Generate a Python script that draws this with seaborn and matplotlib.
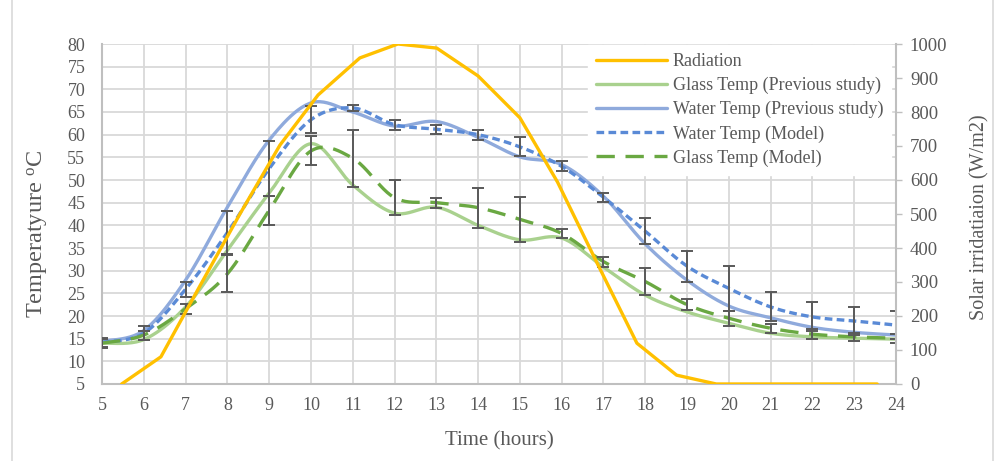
import numpy as np
import pandas as pd
import matplotlib
matplotlib.use("Agg")
import matplotlib.pyplot as plt
import seaborn as sns
from matplotlib.patches import Rectangle

# ---------------- data ----------------
hours = [5, 6, 7, 8, 9, 10, 11, 12, 13, 14, 15, 16, 17, 18, 19, 20, 21, 22, 23, 24]
glass_prev = [14.0, 14.8, 22.0, 34.5, 47.1, 58.0, 48.9, 42.7, 44.0, 40.0, 36.8, 37.2,
              30.8, 24.6, 20.9, 18.4, 16.2, 15.4, 15.1, 14.9]
water_prev = [14.4, 16.8, 27.9, 44.0, 58.8, 67.0, 65.0, 61.9, 62.9, 59.4, 55.1, 53.4,
              46.4, 35.9, 27.9, 22.2, 19.6, 17.5, 16.4, 15.8]
water_model = [14.2, 16.2, 25.9, 38.4, 52.5, 63.3, 65.9, 62.2, 61.2, 60.0, 57.3, 53.0,
               46.2, 38.7, 31.0, 26.1, 22.0, 19.8, 18.9, 18.0]
glass_model = [14.0, 15.8, 21.6, 29.3, 43.3, 56.4, 54.8, 46.1, 45.0, 43.9, 41.3, 38.2,
               32.0, 27.6, 22.5, 19.5, 17.3, 16.0, 15.4, 15.1]
water_err = [1.0, 1.6, 1.7, 4.8, 6.0, 3.0, 0.6, 1.1, 1.0, 1.1, 2.1, 1.1,
             1.0, 2.9, 3.4, 5.0, 3.2, 3.2, 3.0, 3.0]
glass_err = [1.0, 1.0, 1.1, 4.1, 3.2, 3.2, 6.3, 3.9, 1.1, 4.4, 5.0, 1.1,
             1.1, 2.9, 1.2, 1.6, 1.0, 1.1, 0.9, 1.0]
rad_time = [5.47, 6.41, 7.35, 8.30, 9.26, 10.17, 11.17, 12.08, 13.01, 14.00, 15.00,
            15.90, 16.85, 17.80, 18.75, 19.70, 20.65, 21.60, 22.55, 23.55]
radiation = [0, 80, 290, 500, 703, 850, 959, 1000, 988, 906, 783, 594, 355, 120, 26,
             0, 0, 0, 0, 0]

left_ticks = list(range(5, 81, 5))
right_ticks = list(range(0, 1001, 100))
labels = ["Radiation", "Glass Temp (Previous study)", "Water Temp (Previous study)",
          "Water Temp (Model)", "Glass Temp (Model)"]

# ---------------- style ----------------
sns.set_theme(style="white")
plt.rcParams["font.family"] = ["Liberation Serif", "DejaVu Serif"]
plt.rcParams["mathtext.fontset"] = "custom"
plt.rcParams["mathtext.rm"] = "Liberation Serif"
plt.rcParams["mathtext.it"] = "Liberation Serif:italic"
TXT = "#595959"
GRID = "#d9d9d9"


def smooth(x, y, n=24):
    """Excel-like smoothed line (Catmull-Rom Bezier) through the data points."""
    x = np.asarray(x, float)
    y = np.asarray(y, float)
    P = np.column_stack([x, y])
    P = np.vstack([P[0], P, P[-1]])
    out = []
    t = np.linspace(0, 1, n)[:, None]
    for i in range(1, len(P) - 2):
        p0, p1, p2, p3 = P[i - 1], P[i], P[i + 1], P[i + 2]
        b0 = p1
        b1 = p1 + (p2 - p0) / 6.0
        b2 = p2 - (p3 - p1) / 6.0
        b3 = p2
        seg = ((1 - t) ** 3) * b0 + 3 * ((1 - t) ** 2) * t * b1 + 3 * (1 - t) * t ** 2 * b2 + t ** 3 * b3
        out.append(seg if i == 1 else seg[1:])
    s = np.vstack(out)
    return pd.DataFrame({"x": s[:, 0], "y": s[:, 1]})


fig = plt.figure(figsize=(9.95, 4.61), dpi=100)
ax = fig.add_axes([102 / 995, 1 - 384 / 461, 794 / 995, 340 / 461])
ax2 = ax.twinx()

LW = 2.4
d = smooth(hours, glass_prev)
sns.lineplot(data=d, x="x", y="y", ax=ax, sort=False, estimator=None, color="#A9D18E",
             lw=LW, label=labels[1])
d = smooth(hours, water_prev)
sns.lineplot(data=d, x="x", y="y", ax=ax, sort=False, estimator=None, color="#8FAADC",
             lw=LW, label=labels[2])
d = smooth(hours, water_model)
sns.lineplot(data=d, x="x", y="y", ax=ax, sort=False, estimator=None, color="#5A8AD6",
             lw=LW, linestyle=(0, (2.3, 1.3)), label=labels[3])
d = smooth(hours, glass_model)
sns.lineplot(data=d, x="x", y="y", ax=ax, sort=False, estimator=None, color="#6AA842",
             lw=LW, linestyle=(0, (5.5, 3.2)), label=labels[4])

ax.errorbar(hours, water_model, yerr=water_err, fmt="none", ecolor="#595959",
            elinewidth=1.4, capsize=4.5, capthick=1.4, zorder=6)
ax.errorbar(hours, glass_model, yerr=glass_err, fmt="none", ecolor="#595959",
            elinewidth=1.4, capsize=4.5, capthick=1.4, zorder=6)

rad_df = pd.DataFrame({"t": rad_time, "r": radiation})
sns.lineplot(data=rad_df, x="t", y="r", ax=ax2, sort=False, estimator=None,
             color="#FFC000", lw=LW, label=labels[0])

for a in (ax, ax2):
    if a.get_legend() is not None:
        a.get_legend().remove()

# axes ranges & ticks
ax.set_xlim(5, 24)
ax.set_ylim(5, 80)
ax2.set_ylim(0, 1000)
ax.set_xticks(hours)
ax.set_yticks(left_ticks)
ax2.set_yticks(right_ticks)
ax.grid(True, color=GRID, lw=1.3)
ax.set_axisbelow(True)
ax2.grid(False)

ax.tick_params(axis="x", length=0, pad=9, labelsize=13, colors=TXT)
ax.tick_params(axis="y", length=0, pad=12, labelsize=13, colors=TXT)
ax2.tick_params(axis="y", length=4, width=1, color="#bfbfbf", pad=6, labelsize=13.5,
                colors=TXT)
ax2.yaxis.set_tick_params(color="#bfbfbf")

for a in (ax, ax2):
    for s in a.spines.values():
        s.set_visible(False)
ax.spines["left"].set_visible(True)
ax.spines["bottom"].set_visible(True)
ax2.spines["right"].set_visible(True)
for s in (ax.spines["left"], ax.spines["bottom"], ax2.spines["right"]):
    s.set_color("#bfbfbf")
    s.set_linewidth(1.5)

ax.set_xlabel("Time (hours)", fontsize=15, color=TXT)
ax.set_ylabel(r"Temperatyure $^{\rm o}$C", fontsize=17.5, color=TXT)
ax2.set_ylabel("Solar irridatiaion (W/m2)", fontsize=14.5, color=TXT)
ax.xaxis.set_label_coords(0.5, -0.14)
ax.yaxis.set_label_coords(-0.066, 0.44)
ax2.yaxis.set_label_coords(1.093, 0.49)

# legend
h1, l1 = ax.get_legend_handles_labels()
h2, l2 = ax2.get_legend_handles_labels()
hd = dict(zip(l1 + l2, h1 + h2))
leg = ax2.legend([hd[k] for k in labels], labels, loc="upper left",
                 bbox_to_anchor=(588 / 995, 1 - 45 / 461), bbox_transform=fig.transFigure,
                 borderaxespad=0, borderpad=0.45, handlelength=3.9, handletextpad=0.35,
                 labelspacing=0.38, fontsize=13, frameon=True, fancybox=False,
                 facecolor="white", edgecolor="white", framealpha=1)
for t in leg.get_texts():
    t.set_color(TXT)
leg.set_zorder(20)

# outer chart frame
fig.add_artist(Rectangle((12 / 995, -0.05), (993 - 12) / 995, 1.1, transform=fig.transFigure,
                         fill=False, ec=GRID, lw=1.2))

fig.savefig("out.png", dpi=100)
